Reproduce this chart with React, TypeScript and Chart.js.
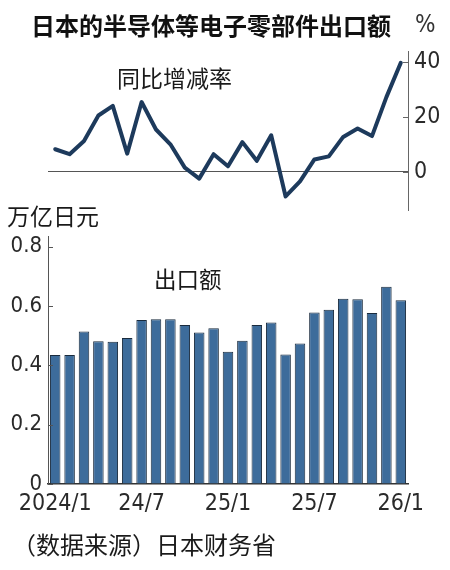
import React, { useEffect, useRef } from "react";
import { Chart, registerables } from "chart.js";
Chart.register(...registerables);

const categories = [
  "2024/1", "24/2", "24/3", "24/4", "24/5", "24/6", "24/7", "24/8", "24/9", "24/10", "24/11", "24/12",
  "25/1", "25/2", "25/3", "25/4", "25/5", "25/6", "25/7", "25/8", "25/9", "25/10", "25/11", "25/12",
  "26/1",
];
const shownXTicks = ["2024/1", "24/7", "25/1", "25/7", "26/1"];
const yoyRate = [
  8.2, 6.4, 11.2, 20.5, 24.0, 6.6, 25.4, 15.4, 10.0, 1.5, -2.5, 6.4,
  2.0, 10.8, 4.0, 13.3, -9.0, -3.5, 4.5, 5.6, 12.7, 15.8, 13.0, 27.2,
  39.7,
];
const exportAmount = [
  0.435, 0.435, 0.514, 0.481, 0.48, 0.492, 0.553, 0.556, 0.556, 0.536, 0.511, 0.525,
  0.446, 0.483, 0.536, 0.545, 0.437, 0.474, 0.578, 0.588, 0.625, 0.623, 0.577, 0.665,
  0.62,
];
const rateTicks = [0, 20, 40];
const amountTicks = [0, 0.2, 0.4, 0.6, 0.8];

const NUM_FONT = '"Liberation Sans Narrow","DejaVu Sans Condensed","Arial Narrow",sans-serif';
const CJK_FONT = '"Noto Sans CJK SC","Noto Sans",sans-serif';

const innerTicks = {
  id: "innerTicks",
  afterDraw(chart: any, _args: any, opts: any) {
    const scale = chart.scales[opts.scaleId];
    if (!scale) return;
    const ctx = chart.ctx;
    ctx.save();
    ctx.strokeStyle = opts.color;
    ctx.lineWidth = 1;
    for (const t of scale.ticks) {
      const y = Math.round(scale.getPixelForValue(t.value)) + 0.5;
      const x0 = opts.side === "right" ? scale.left : scale.right;
      const x1 = opts.side === "right" ? x0 - opts.length : x0 + opts.length;
      ctx.beginPath();
      ctx.moveTo(x0, y);
      ctx.lineTo(x1, y);
      ctx.stroke();
    }
    ctx.restore();
  },
};

function RateChart() {
  const ref = useRef<HTMLCanvasElement>(null);
  useEffect(() => {
    const chart = new Chart(ref.current!, {
      type: "line",
      data: {
        labels: categories,
        datasets: [
          {
            data: yoyRate,
            borderColor: "#1d3a5c",
            borderWidth: 4,
            pointRadius: 0,
            tension: 0,
            borderJoinStyle: "round",
            borderCapStyle: "round",
          },
        ],
      },
      plugins: [innerTicks as any],
      options: {
        animation: false,
        responsive: false,
        devicePixelRatio: 1,
        layout: { padding: { left: 48, right: 0, top: 21, bottom: 16.5 } },
        plugins: {
          legend: { display: false },
          tooltip: { enabled: false },
          innerTicks: { scaleId: "y", side: "right", length: 5, color: "#666" },
        } as any,
        scales: {
          x: { type: "category", offset: true, display: false },
          y: {
            position: "right",
            min: -14,
            max: 44,
            afterBuildTicks: (s: any) => {
              s.ticks = rateTicks.map((v) => ({ value: v }));
            },
            afterFit: (s: any) => {
              s.width = 42;
            },
            border: { display: true, color: "#666", width: 1 },
            grid: {
              drawTicks: false,
              drawOnChartArea: true,
              color: (c: any) => (c.tick && c.tick.value === 0 ? "#555" : "rgba(0,0,0,0)"),
              lineWidth: 1,
            },
            ticks: {
              padding: 6,
              color: "#2a2a2a",
              font: { family: NUM_FONT, size: 23 },
              callback: (v: any) => String(v),
            },
          },
        },
      },
    });
    return () => chart.destroy();
  }, []);
  return (
    <canvas
      ref={ref}
      width={450}
      height={200}
      style={{ position: "absolute", left: 0, top: 30, width: 450, height: 200 }}
    />
  );
}

function AmountChart() {
  const ref = useRef<HTMLCanvasElement>(null);
  useEffect(() => {
    const chart = new Chart(ref.current!, {
      type: "bar",
      data: {
        labels: categories,
        datasets: [
          {
            data: exportAmount,
            backgroundColor: "#3d6c9b",
            borderColor: "#1a2b3d",
            borderWidth: 1,
            barPercentage: 0.73,
            categoryPercentage: 1,
          },
        ],
      },
      plugins: [innerTicks as any],
      options: {
        animation: false,
        responsive: false,
        devicePixelRatio: 1,
        layout: { padding: { left: 8, right: 42, top: 36.4, bottom: 0 } },
        plugins: {
          legend: { display: false },
          tooltip: { enabled: false },
          innerTicks: { scaleId: "y", side: "left", length: 5, color: "#555" },
        } as any,
        scales: {
          x: {
            type: "category",
            offset: true,
            afterFit: (s: any) => {
              s.height = 36;
            },
            border: { display: true, color: "#333", width: 1.5 },
            grid: { drawOnChartArea: false, drawTicks: false },
            ticks: {
              autoSkip: false,
              maxRotation: 0,
              minRotation: 0,
              padding: 6,
              color: "#2a2a2a",
              font: { family: NUM_FONT, size: 23 },
              callback: (_v: any, i: number) =>
                shownXTicks.includes(categories[i]) ? categories[i] : "",
            },
          },
          y: {
            position: "left",
            min: 0,
            max: 0.835,
            afterBuildTicks: (s: any) => {
              s.ticks = amountTicks.map((v) => ({ value: v }));
            },
            afterFit: (s: any) => {
              s.width = 40;
            },
            border: { display: true, color: "#555", width: 1 },
            grid: { drawOnChartArea: false, drawTicks: false },
            ticks: {
              padding: 6,
              color: "#2a2a2a",
              font: { family: NUM_FONT, size: 22 },
              callback: (v: any) => String(v),
            },
          },
        },
      },
    });
    return () => chart.destroy();
  }, []);
  return (
    <canvas
      ref={ref}
      width={450}
      height={320}
      style={{ position: "absolute", left: 0, top: 200, width: 450, height: 320 }}
    />
  );
}

const textBase: React.CSSProperties = {
  position: "absolute",
  lineHeight: 1,
  whiteSpace: "nowrap",
  color: "#111",
  fontFamily: CJK_FONT,
};

export default function App() {
  return (
    <div
      style={{
        position: "absolute",
        left: 0,
        top: 0,
        width: 450,
        height: 570,
        background: "#fff",
        overflow: "hidden",
      }}
    >
      <RateChart />
      <AmountChart />
      <div style={{ ...textBase, left: 31, top: 13, fontSize: 24, fontWeight: 700 }}>
        日本的半导体等电子零部件出口额
      </div>
      <div style={{ ...textBase, left: 415, top: 12, fontSize: 24, fontFamily: NUM_FONT, color: "#333" }}>
        %
      </div>
      <div style={{ ...textBase, left: 117, top: 65.5, fontSize: 23, color: "#1a1a1a" }}>
        同比增减率
      </div>
      <div style={{ ...textBase, left: 7, top: 203.5, fontSize: 23, color: "#1a1a1a" }}>
        万亿日元
      </div>
      <div style={{ ...textBase, left: 154, top: 267, fontSize: 22.5, color: "#1a1a1a" }}>
        出口额
      </div>
      <div style={{ ...textBase, left: 12, top: 532, fontSize: 24, color: "#1a1a1a" }}>
        （数据来源）日本财务省
      </div>
    </div>
  );
}
